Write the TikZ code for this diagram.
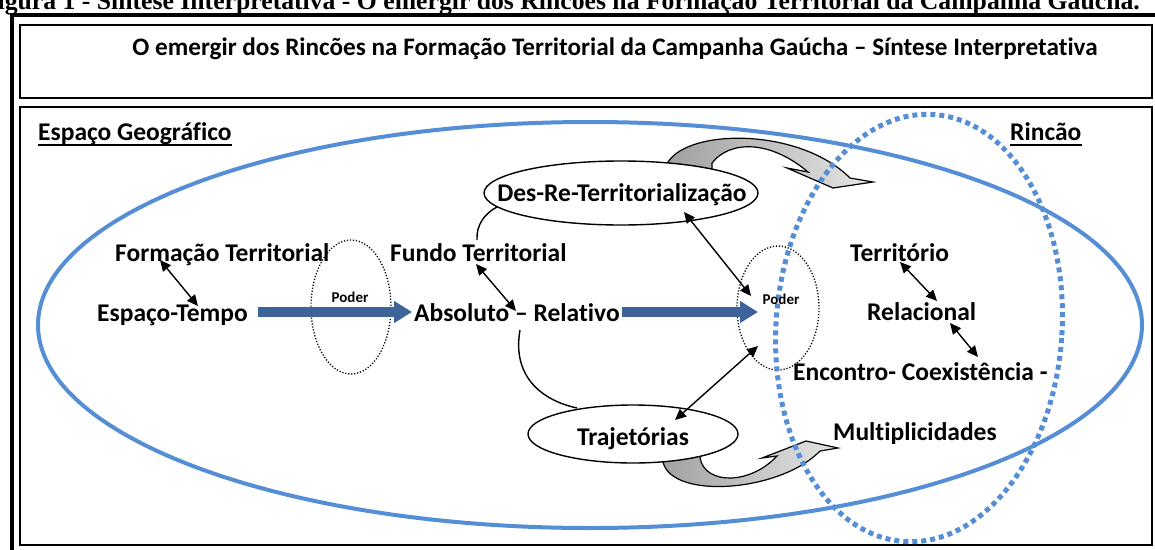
\documentclass[tikz,border=0pt]{standalone}
\usepackage{fontspec}
\setmainfont{Carlito}[Ligatures=NoCommon]
\newfontfamily\capfont{Liberation Serif}
\usetikzlibrary{arrows.meta,calc}
\definecolor{eblue}{RGB}{85,142,213}
\definecolor{dblue}{RGB}{60,100,152}
\definecolor{gdark}{RGB}{160,160,160}
\definecolor{glight}{RGB}{230,230,230}
\begin{document}
\begin{tikzpicture}[x=1pt,y=-1pt,
  lab/.style={font=\fontsize{25.5}{30}\selectfont\bfseries, inner sep=0pt},
  ttl/.style={font=\fontsize{25.2}{30}\selectfont\bfseries, inner sep=0pt},
  pod/.style={font=\fontsize{15}{18}\selectfont\bfseries, inner sep=0pt},
  dbl/.style={{Triangle[length=11pt,width=10pt]}-{Triangle[length=11pt,width=10pt]}, line width=1.4pt},
  thinline/.style={line width=1.4pt},
  bigarrow/.style={dblue, line width=10pt, -{Triangle[length=18pt,width=21pt]}},
  poderell/.style={draw, line width=1.3pt, dash pattern=on 1.2pt off 1.8pt},
  rincell/.style={eblue, line width=5pt, dash pattern=on 5pt off 4pt},
  grayarrow/.style={left color=gdark, right color=glight, draw=black, line width=1.2pt},
  whiteell/.style={draw, fill=white, line width=1.4pt},
  uline/.style={line width=2pt}
]
\useasboundingbox (0,0) rectangle (1155,549);
\clip (0,0) rectangle (1155,549);

% caption (cut at top)
\node[anchor=base east, inner sep=0pt, font=\capfont\bfseries\fontsize{25.7}{30}\selectfont] (cap) at (1140,9)
  {Figura 1 - Síntese Interpretativa - O emergir dos Rincões na Formação Territorial da Campanha Gaúcha.};

% frames
\draw[line width=3.5pt] (12,15) rectangle (1175,565);
\draw[line width=2pt] (20,25) rectangle (1152,98);
\draw[line width=2pt] (20,107) rectangle (1152,545);

\node[ttl, anchor=base] (title) at (615,55)
  {O emergir dos Rincões na Formação Territorial da Campanha Gaúcha – Síntese Interpretativa};

% big blue ellipse
\draw[eblue, line width=4pt] (590,325) ellipse [x radius=552, y radius=203];

% gray curved arrows
\path[grayarrow] (668,178) -- (668,162) .. controls (690,128) and (800,128) .. (850,178)
  -- (873,182) -- (833,188) -- (787,168) -- (808,172)
  .. controls (770,140) and (730,140) .. (712,163) -- (712,178) -- cycle;
\path[grayarrow] (660,445) -- (663,462) .. controls (672,500) and (780,492) .. (820,451)
  -- (838,448) -- (806,441) -- (762,458) -- (777,456)
  .. controls (750,485) and (705,485) .. (700,458) -- (703,445) -- cycle;

% white ellipses
\draw[whiteell] (621,193) ellipse [x radius=137, y radius=32];
\draw[whiteell] (633,434) ellipse [x radius=105, y radius=29];

% poder ellipses
\draw[poderell] (351,307) ellipse [x radius=40, y radius=67];
\draw[poderell] (778,308) ellipse [x radius=41, y radius=62];

% rincao dotted ellipse
\draw[rincell, rotate around={-4:(919,328)}] (919,328) ellipse [x radius=143, y radius=214];

% texts
\node[lab, anchor=base west] (eg) at (38,140) {Espaço Geográfico};
\draw[uline] ($(eg.base west)+(0,5)$) -- ($(eg.base east)+(0,5)$);
\node[lab, anchor=base west] (rc) at (1010,140) {Rincão};
\draw[uline] ($(rc.base west)+(0,5)$) -- ($(rc.base east)+(0,5)$);

\node[lab, anchor=base west] (ft) at (115,261) {Formação Territorial};
\node[lab, anchor=base west] (et) at (97,321) {Espaço-Tempo};
\node[lab, anchor=base west] (fu) at (390,261) {Fundo Territorial};
\node[lab, anchor=base west] (ar) at (414,321) {Absoluto – Relativo};
\node[lab, anchor=base] (dr) at (622,201) {Des-Re-Territorialização};
\node[lab, anchor=base] (tr) at (633,445) {Trajetórias};
\node[lab, anchor=base west] (te) at (850,261) {Território};
\node[lab, anchor=base west] (re) at (867,320) {Relacional};
\node[lab, anchor=base west] (en) at (793,380) {Encontro- Coexistência -};
\node[lab, anchor=base west] (mu) at (833,440) {Multiplicidades};
\node[pod, anchor=base] (p1) at (350,302) {Poder};
\node[pod, anchor=base] (p2) at (781,304) {Poder};

% coordinates for connectors
\coordinate (ba1s) at (258,312); \coordinate (ba1e) at (412,312);
\coordinate (ba2s) at (622,312); \coordinate (ba2e) at (758,312);
\coordinate (a1s) at (160,260); \coordinate (a1e) at (198,306);
\coordinate (a2s) at (476,264); \coordinate (a2e) at (516,311);
\coordinate (a3s) at (684,212); \coordinate (a3e) at (751,296);
\coordinate (a4s) at (675,420); \coordinate (a4e) at (758,346);
\coordinate (a5s) at (900,262); \coordinate (a5e) at (937,301);
\coordinate (a6s) at (950,323); \coordinate (a6e) at (978,357);
\coordinate (c1s) at (477,240); \coordinate (c1e) at (497,207);
\coordinate (c2s) at (520,330); \coordinate (c2e) at (577,408);

% thick blue arrows
\draw[bigarrow] (ba1s) -- (ba1e);
\draw[bigarrow] (ba2s) -- (ba2e);

% black double arrows
\draw[dbl] (a1s) -- (a1e);
\draw[dbl] (a2s) -- (a2e);
\draw[dbl] (a3s) -- (a3e);
\draw[dbl] (a4s) -- (a4e);
\draw[dbl] (a5s) -- (a5e);
\draw[dbl] (a6s) -- (a6e);

% curves
\draw[thinline] (c1s) .. controls (476,225) and (485,213) .. (c1e);
\draw[thinline] (c2s) .. controls (512,375) and (540,400) .. (c2e);
\end{tikzpicture}
\end{document}
